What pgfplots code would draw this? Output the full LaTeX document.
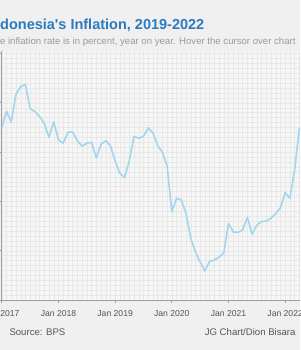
\documentclass[border=0pt]{standalone}
\usepackage{pgfplots}
\pgfplotsset{compat=1.18}
\usepackage{fontspec}
\setmainfont{Liberation Sans}
\definecolor{pagebg}{HTML}{F0F0F0}
\definecolor{plotbg}{HTML}{F6F6F6}
\definecolor{gridc}{HTML}{E8E8E8}
\definecolor{linec}{HTML}{A3D5EC}
\definecolor{titlec}{HTML}{2B7BBF}
\definecolor{subc}{HTML}{9A9A9A}
\definecolor{tickc}{HTML}{555555}
\definecolor{axisc}{HTML}{A0A0A0}
\begin{document}
\begin{tikzpicture}[x=1pt,y=1pt]
\path[use as bounding box] (0,0) rectangle (300,350);
\begin{scope}
\clip (0,0) rectangle (300,350);
\fill[pagebg] (0,0) rectangle (300,350);
\begin{axis}[
  at={(1.8pt,50pt)}, anchor=south west,
  scale only axis, width=335.3pt, height=249pt,
  xmin=0, xmax=71, ymin=0, ymax=5.05,
  axis background/.style={fill=plotbg},
  axis x line=bottom, axis y line=left,
  axis line style={draw=axisc, line width=0.9pt, -},
  xtick={0,12,24,36,48,60},
  xticklabels={Jan 2017,Jan 2018,Jan 2019,Jan 2020,Jan 2021,Jan 2022},
  ytick={0,1,2,3,4,5}, yticklabels={},
  minor xtick={0,1,...,71},
  minor ytick={0,0.1,...,5.05},
  tick align=outside, major tick length=3pt, minor tick length=0pt,
  tick style={draw=axisc, line width=0.7pt},
  grid=both,
  minor grid style={draw=gridc, line width=0.3pt},
  major grid style={draw=gridc, line width=0.3pt},
  xticklabel style={font=\fontsize{8.6}{10}\selectfont, text=tickc, yshift=-3.5pt},
]
\addplot[linec, line width=1.6pt, line join=round, mark=none] coordinates {
(0,3.49) (1,3.83) (2,3.61) (3,4.17) (4,4.33) (5,4.37) (6,3.88) (7,3.82)
(8,3.72) (9,3.58) (10,3.30) (11,3.61) (12,3.25) (13,3.18) (14,3.40) (15,3.41)
(16,3.23) (17,3.12) (18,3.18) (19,3.20) (20,2.88) (21,3.16) (22,3.23) (23,3.13)
(24,2.82) (25,2.57) (26,2.48) (27,2.83) (28,3.32) (29,3.28) (30,3.32) (31,3.49)
(32,3.39) (33,3.13) (34,3.00) (35,2.72) (36,1.79) (37,2.06) (38,2.03) (39,1.76)
(40,1.26) (41,0.97) (42,0.77) (43,0.59) (44,0.78) (45,0.81) (46,0.87) (47,0.95)
(48,1.55) (49,1.38) (50,1.37) (51,1.42) (52,1.68) (53,1.33) (54,1.52) (55,1.59)
(56,1.60) (57,1.66) (58,1.75) (59,1.87) (60,2.18) (61,2.06) (62,2.64) (63,3.47)
(64,3.55) (65,4.35)
};
\end{axis}
\node[anchor=base west, inner sep=0, font=\fontsize{14.5}{17}\selectfont\bfseries, text=titlec] at (-12.9,320) {Indonesia\textquotesingle s Inflation, 2019-2022};
\node[anchor=base west, inner sep=0, font=\fontsize{9.6}{11}\selectfont, text=subc] at (-11.3,305.5) {The inflation rate is in percent, year on year. Hover the cursor over chart};
\node[anchor=base west, inner sep=0, font=\fontsize{9.6}{11}\selectfont, text=tickc] at (9.3,14) {Source: BPS};
\node[anchor=base east, inner sep=0, font=\fontsize{9.6}{11}\selectfont, text=tickc] at (295.7,14) {JG Chart/Dion Bisara};
\end{scope}
\end{tikzpicture}
\end{document}
